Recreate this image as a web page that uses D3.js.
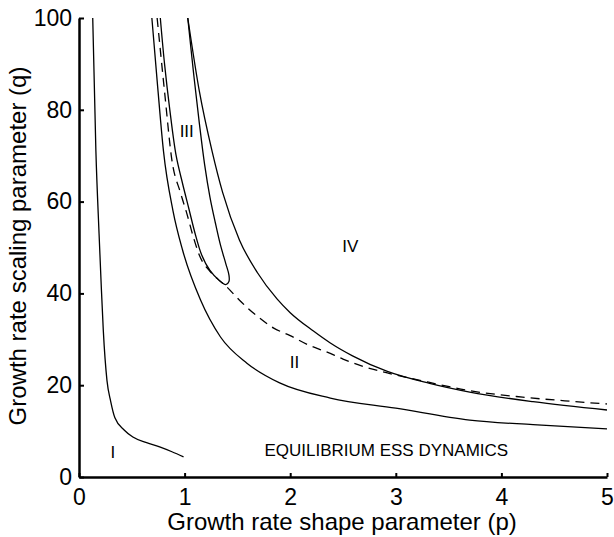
<!DOCTYPE html>
<html lang="en">
<head>
    <meta charset="UTF-8">
    <title>ESS dynamics regions</title>
    <script src="https://d3js.org/d3.v7.min.js"></script>
    <style>
        body { margin: 0; background: #fff; }
        svg { display: block; font-family: "Liberation Sans", Arial, sans-serif; }
        .domain { stroke: #000; stroke-width: 2.5; }
        .tick line { stroke: #000; stroke-width: 2; }
        .tick text { font-size: 23px; fill: #000; }
        .curve { fill: none; stroke: #000; stroke-width: 1.3; }
        .dashed { stroke-dasharray: 9,6; }
    </style>
</head>
<body>
<svg id="chart" width="614" height="537"></svg>
<script>
// --- data (p = shape, q = scaling) ---
const xTicks = [0, 1, 2, 3, 4, 5];
const yTicks = [0, 20, 40, 60, 80, 100];

// region I boundary
const curveI_p = [0.13, 0.16, 0.19, 0.21, 0.23, 0.265, 0.30, 0.34, 0.43, 0.51, 0.64, 0.77, 0.88, 0.99];
const curveI_q = [100, 71, 53, 42, 32, 21, 16.5, 12.9, 10.2, 8.7, 7.5, 6.5, 5.5, 4.4];

// region II lower boundary
const curveII_p = [0.69, 0.745, 0.80, 0.89, 0.98, 1.15, 1.34, 1.59, 1.90, 2.38, 3.0, 3.70, 4.3, 5.0];
const curveII_q = [100, 85, 71, 58, 49.5, 38.6, 30.5, 24.8, 20.5, 17.2, 15.0, 12.4, 11.4, 10.5];

// dashed boundary
const dashed_p = [0.74, 0.81, 0.88, 0.96, 1.02, 1.08, 1.14, 1.24, 1.32, 1.40, 1.52, 1.69, 1.84, 2.0, 2.17, 2.35, 2.5, 2.69, 2.88, 3.1, 3.32, 3.7, 4.2, 4.6, 5.0];
const dashed_q = [100, 84, 69, 62, 57.5, 52.5, 48.3, 44.8, 43.0, 41.4, 38.5, 35, 32.5, 30.8, 28.8, 27.2, 25.7, 24.1, 22.9, 21.7, 20.6, 18.8, 17.4, 16.6, 15.9];

// region III loop: left side going down, then right side going back up
const loopLeft_p = [0.77, 0.81, 0.86, 0.92, 0.98, 1.04, 1.10, 1.16, 1.24, 1.32, 1.39];
const loopLeft_q = [100, 90, 80, 70, 64, 58.5, 53, 48.5, 45, 43, 41.9];
const loopRight_p = [1.42, 1.42, 1.39, 1.34, 1.29, 1.24, 1.19, 1.14, 1.085, 1.03];
const loopRight_q = [42.6, 44, 46.5, 50.5, 55.5, 61, 68, 77, 88, 100];

// region IV boundary
const curveIV_p = [1.03, 1.14, 1.26, 1.36, 1.52, 1.69, 1.875, 2.0, 2.22, 2.38, 2.59, 2.92, 3.32, 3.70, 4.3, 5.0];
const curveIV_q = [100, 84, 71, 62, 51.6, 44.5, 38.8, 35.8, 31.8, 29.2, 26.4, 23.0, 20.4, 18.5, 16.4, 14.6];

const labelText = ["I", "II", "III", "IV", "EQUILIBRIUM ESS DYNAMICS"];
const label_p = [0.32, 2.04, 1.02, 2.57, 2.91];
const label_q = [5.3, 25, 75.2, 50.2, 5.8];

// --- layout ---
const svg = d3.select("#chart");
const margin = { top: 18, left: 79, right: 7, bottom: 60 };
const W = 614 - margin.left - margin.right;
const H = 537 - margin.top - margin.bottom;

const x = d3.scaleLinear().domain([0, 5]).range([0, W]);
const y = d3.scaleLinear().domain([0, 100]).range([H, 0]);

const g = svg.append("g").attr("transform", `translate(${margin.left},${margin.top})`);

const zip = (ps, qs) => ps.map((p, i) => [p, qs[i]]);

const lineMono = d3.line().x(d => x(d[0])).y(d => y(d[1])).curve(d3.curveMonotoneX);
const lineSmooth = d3.line().x(d => x(d[0])).y(d => y(d[1])).curve(d3.curveCatmullRom.alpha(0.5));

g.append("path").attr("class", "curve").attr("d", lineMono(zip(curveI_p, curveI_q)));
g.append("path").attr("class", "curve").attr("d", lineMono(zip(curveII_p, curveII_q)));
g.append("path").attr("class", "curve dashed").attr("d", lineMono(zip(dashed_p, dashed_q)));
g.append("path").attr("class", "curve")
    .attr("d", lineSmooth(zip(loopLeft_p, loopLeft_q).concat(zip(loopRight_p, loopRight_q))));
g.append("path").attr("class", "curve").attr("d", lineMono(zip(curveIV_p, curveIV_q)));

// region labels
g.selectAll(".region")
    .data(labelText)
    .enter().append("text")
    .attr("class", "region")
    .attr("x", (d, i) => x(label_p[i]))
    .attr("y", (d, i) => y(label_q[i]))
    .attr("text-anchor", "middle")
    .attr("dominant-baseline", "central")
    .attr("font-size", 17)
    .text(d => d);

// axes (ticks point inward)
g.append("g")
    .attr("transform", `translate(0,${H})`)
    .call(d3.axisBottom(x).tickValues(xTicks).tickFormat(d3.format("d"))
        .tickSizeInner(-4).tickSizeOuter(0).tickPadding(12));

g.append("g")
    .call(d3.axisLeft(y).tickValues(yTicks).tickFormat(d3.format("d"))
        .tickSizeInner(-5).tickSizeOuter(0).tickPadding(7));

// axis titles
svg.append("text")
    .attr("x", margin.left + x(2.5) - 1)
    .attr("y", 530)
    .attr("text-anchor", "middle")
    .attr("font-size", 24)
    .text("Growth rate shape parameter (p)");

svg.append("text")
    .attr("transform", "translate(26,246) rotate(-90)")
    .attr("text-anchor", "middle")
    .attr("font-size", 24)
    .text("Growth rate scaling parameter (q)");
</script>
</body>
</html>
